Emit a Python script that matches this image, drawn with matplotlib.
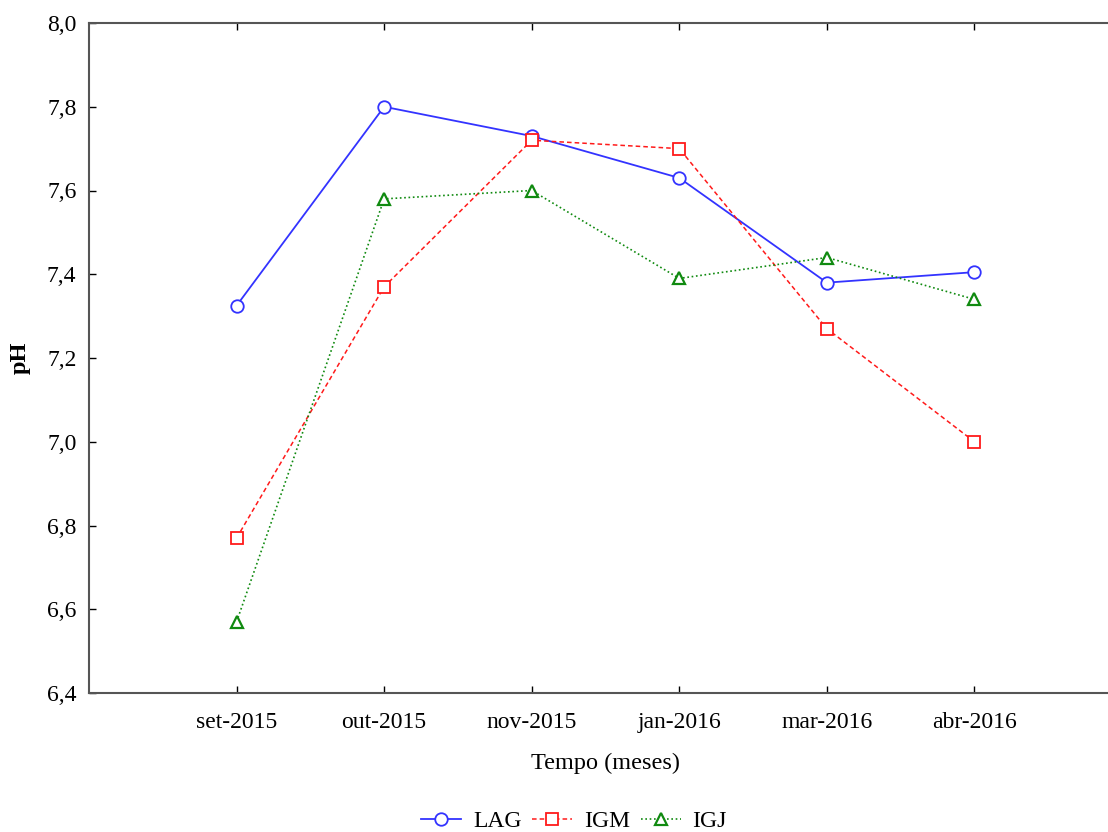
import numpy as np
import matplotlib.pyplot as plt

meses = ['set-2015', 'out-2015', 'nov-2015', 'jan-2016', 'mar-2016', 'abr-2016']
lag = [7.325, 7.80, 7.73, 7.63, 7.38, 7.405]
igm = [6.77, 7.37, 7.72, 7.70, 7.27, 7.00]
igj = [6.57, 7.58, 7.60, 7.39, 7.44, 7.34]

plt.rcParams['font.family'] = ['Liberation Serif', 'DejaVu Serif']

W, H = 1108, 832
fig = plt.figure(figsize=(W / 100, H / 100), dpi=100)
# eixo x de -1 a 6; a borda direita fica fora da figura, como no original
ax = fig.add_axes([89 / W, 1 - 693 / H, 1033 / W, 670 / H])

x = np.arange(len(meses))
ax.plot(x, lag, color='#3333ff', linestyle='-', linewidth=1.3, marker='o',
        markersize=9, markerfacecolor='white', markeredgewidth=1.3, label='LAG')
ax.plot(x, igm, color='#ff1a1a', linestyle=(0, (3, 2)), linewidth=1.1, marker='s',
        markersize=8.5, markerfacecolor='white', markeredgewidth=1.3, label='IGM')
ax.plot(x, igj, color='#108a10', linestyle=(0, (1, 1.6)), linewidth=1.2, marker='^',
        markersize=8.5, markerfacecolor='white', markeredgewidth=1.6, label='IGJ')

ax.set_xlim(-1, 6)
ax.set_ylim(6.4, 8.0)
ax.set_xticks(x)
ax.set_xticklabels(meses)
yt = np.arange(6.4, 8.01, 0.2)
ax.set_yticks(yt)
ax.set_yticklabels([f'{v:.1f}'.replace('.', ',') for v in yt])
ax.tick_params(direction='in', length=5, width=1, labelsize=17, top=True)
ax.tick_params(axis='x', pad=14)
ax.tick_params(axis='y', pad=9)
for s in ax.spines.values():
    s.set_color('#555555')
    s.set_linewidth(1.5)

ax.set_xlabel('Tempo (meses)', fontsize=17.5, labelpad=14)
ax.set_ylabel('pH', fontsize=17.5, fontweight='bold', labelpad=12)

fig.legend(loc='center', bbox_to_anchor=(574 / W, 1 - 821 / H), ncol=3, frameon=False,
           fontsize=17, handlelength=1.7, handletextpad=0.5, columnspacing=0.45)

fig.savefig('out.png', dpi=100)
